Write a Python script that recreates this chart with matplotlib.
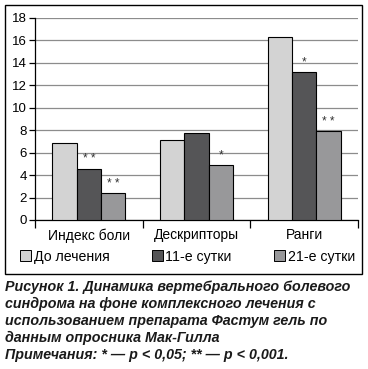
import numpy as np
import matplotlib
matplotlib.use("Agg")
import matplotlib.pyplot as plt
from matplotlib.patches import Rectangle

plt.rcParams['font.family'] = ['Liberation Sans', 'DejaVu Sans']

categories = ['Индекс боли', 'Дескрипторы', 'Ранги']
series_names = ['До лечения', '11-е сутки', '21-е сутки']
before = [6.85, 7.1, 16.25]
day11 = [4.55, 7.75, 13.15]
day21 = [2.4, 4.9, 7.9]
marks11 = ['* *', '', '*']
marks21 = ['* *', '*', '* *']
colors = ['#d3d3d3', '#555557', '#98989a']

W, H = 368, 369
fig = plt.figure(figsize=(W / 100, H / 100), dpi=100)

# outer frame round chart + legend
fig.add_artist(Rectangle((5 / W, 1 - 274 / H), 357 / W, 269 / H, transform=fig.transFigure,
                         fill=False, edgecolor='black', linewidth=1.0))

ax = fig.add_axes([35 / W, 1 - 220 / H, 323 / W, 202.3 / H])
x = np.arange(len(categories))
bw = 0.225
series = [before, day11, day21]
for i, (vals, c) in enumerate(zip(series, colors)):
    ax.bar(x + (i - 1) * bw, vals, bw, color=c, edgecolor='black', linewidth=0.8,
           label=series_names[i], zorder=3)

for xs, vals, marks in [(x, day11, marks11), (x + bw, day21, marks21)]:
    for xi, v, m in zip(xs, vals, marks):
        if m:
            ax.text(xi, v + 0.3, m, ha='center', va='bottom', fontsize=8.5, color='#333333')

ax.set_ylim(0, 18)
ax.set_xlim(-0.5, 2.5)
ax.set_yticks(range(0, 19, 2))
ax.yaxis.grid(True, color='#8c8c8c', linewidth=0.9, zorder=0)
ax.set_axisbelow(True)
for s in ['top', 'right']:
    ax.spines[s].set_visible(False)
ax.spines['left'].set_linewidth(0.9)
ax.spines['bottom'].set_linewidth(0.9)
ax.tick_params(axis='y', length=4, width=0.9, labelsize=9.5, pad=2)
ax.set_xticks(x)
ax.set_xticklabels(categories, fontsize=10)
ax.set_xticks([-0.5, 0.5, 1.5, 2.5], minor=True)
ax.tick_params(axis='x', which='major', length=0, pad=6)
ax.tick_params(axis='x', which='minor', length=6, width=0.9)

handles = [Rectangle((0, 0), 1, 1, facecolor=c, edgecolor='black', linewidth=0.7) for c in colors]
fig.legend(handles, series_names, loc='center', bbox_to_anchor=(0.51, 1 - 256.5 / H), ncol=3,
           frameon=False, fontsize=10.2, handlelength=0.75, handleheight=0.75, handletextpad=0.2,
           columnspacing=3.0)

caption = ['Рисунок 1. Динамика вертебрального болевого',
           'синдрома на фоне комплексного лечения с',
           'использованием препарата Фастум гель по',
           'данным опросника Мак-Гилла',
           'Примечания: * \u2014 p < 0,05; ** \u2014 p < 0,001.']
for k, line in enumerate(caption):
    fig.text(5 / W, 1 - (286.7 + k * 17.1) / H, line, ha='left', va='center', fontsize=10.3,
             fontweight='bold', fontstyle='italic', color='#1a1a1a')

fig.savefig('out.png', dpi=100)
